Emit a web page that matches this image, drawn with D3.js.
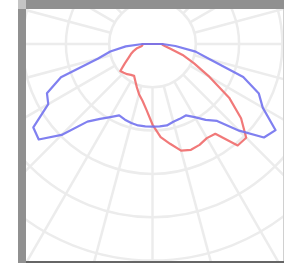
<!DOCTYPE html>
<html>
<head>
<meta charset="utf-8">
<script src="https://cdn.jsdelivr.net/npm/d3@7"></script>
<style>
  html, body { margin: 0; padding: 0; background: #fff; }
  svg { display: block; }
</style>
</head>
<body>
<div id="ldc"><svg></svg></div>
<script>
const WIDTH = 284;
const HEIGHT = 263;

// gamma angles, 0 = straight down, negative = left side
const gammaAngles = [-90, -85, -80, -75, -70, -65, -60, -55, -50, -45, -40, -35, -30, -25, -20, -15, -10, -5,
  0, 5, 10, 15, 20, 25, 30, 35, 40, 45, 50, 55, 60, 65, 70, 75, 80, 85, 90];

// cd/klm, C0-C180 plane (blue)
const planeC0 = [23, 62, 99, 131, 225, 269, 278, 336, 343, 297, 234, 211, 195, 182, 186, 189, 191, 191,
  191, 191, 191, 186, 184, 182, 195, 214, 232, 283, 336, 347, 294, 271, 223, 138, 101, 53, 23];

// cd/klm, C90-C270 plane (red)
const planeC90 = [23, 23, 25, 37, 46, 55, 64, 78, 97, 94, 91, 87, 85, 94, 106, 120, 133, 154,
  186, 216, 234, 255, 260, 257, 251, 253, 306, 306, 267, 216, 152, 106, 74, 44, 30, 23, 23];

const ringValues = [100, 200, 300, 400, 500, 600, 700];
const spokeAngles = d3.range(0, 360, 15);

const CX = 152.5;
const CY = 44;
const RING_PX = 43.3;
const GRID = '#ececec';

const svg = d3.select('#ldc').select('svg')
  .attr('width', WIDTH)
  .attr('height', HEIGHT);

const plot = { x: 26, y: 9, w: 258, h: 252 };

svg.append('clipPath').attr('id', 'clip')
  .append('rect')
  .attr('x', plot.x).attr('y', plot.y)
  .attr('width', plot.w).attr('height', plot.h);

svg.append('rect')
  .attr('x', plot.x).attr('y', plot.y)
  .attr('width', plot.w).attr('height', plot.h)
  .style('fill', '#fff');

const r = d3.scaleLinear().domain([0, 100]).range([0, RING_PX]);

const g = svg.append('g')
  .attr('clip-path', 'url(#clip)')
  .append('g')
  .attr('transform', 'translate(' + CX + ',' + CY + ')');

// grid rings
g.selectAll('.ring')
  .data(ringValues)
  .enter()
  .append('circle')
  .classed('ring', true)
  .attr('r', d => r(d))
  .style('fill', 'none')
  .style('stroke', GRID)
  .style('stroke-width', 2.5);

// spokes start at the first ring
g.selectAll('.spoke')
  .data(spokeAngles)
  .enter()
  .append('line')
  .classed('spoke', true)
  .attr('x1', d => r(ringValues[0]) * Math.sin(d * Math.PI / 180))
  .attr('y1', d => r(ringValues[0]) * Math.cos(d * Math.PI / 180))
  .attr('x2', d => r(800) * Math.sin(d * Math.PI / 180))
  .attr('y2', d => r(800) * Math.cos(d * Math.PI / 180))
  .style('stroke', GRID)
  .style('stroke-width', 2.5);

// lineRadial measures angle clockwise from 12 o'clock, so gamma 0 (down) is PI
const curve = (values) => d3.lineRadial()
  .angle((d, i) => Math.PI - gammaAngles[i] * Math.PI / 180)
  .radius(d => r(d))
  .curve(d3.curveLinearClosed)(values);

g.append('path')
  .attr('d', curve(planeC90))
  .style('fill', 'none')
  .style('stroke', '#f06a6a')
  .style('stroke-opacity', 0.9)
  .style('stroke-width', 2.2)
  .style('stroke-linejoin', 'round');

g.append('path')
  .attr('d', curve(planeC0))
  .style('fill', 'none')
  .style('stroke', '#7272ee')
  .style('stroke-opacity', 0.9)
  .style('stroke-width', 2.2)
  .style('stroke-linejoin', 'round');

// frame
svg.append('rect')
  .attr('x', plot.x).attr('y', 0)
  .attr('width', WIDTH - plot.x).attr('height', plot.y)
  .style('fill', '#909090');
svg.append('rect')
  .attr('x', 18).attr('y', plot.y)
  .attr('width', plot.x - 18).attr('height', HEIGHT - plot.y)
  .style('fill', '#909090');
svg.append('rect')
  .attr('x', 18).attr('y', 0)
  .attr('width', plot.x - 18).attr('height', plot.y)
  .style('fill', '#c4c4c4');
svg.append('rect')
  .attr('x', plot.x).attr('y', plot.y + plot.h)
  .attr('width', plot.w).attr('height', HEIGHT - plot.y - plot.h)
  .style('fill', '#666');
svg.append('line')
  .attr('x1', WIDTH - 0.5).attr('y1', plot.y)
  .attr('x2', WIDTH - 0.5).attr('y2', plot.y + plot.h)
  .style('stroke', '#d0d0d0');
</script>
</body>
</html>
